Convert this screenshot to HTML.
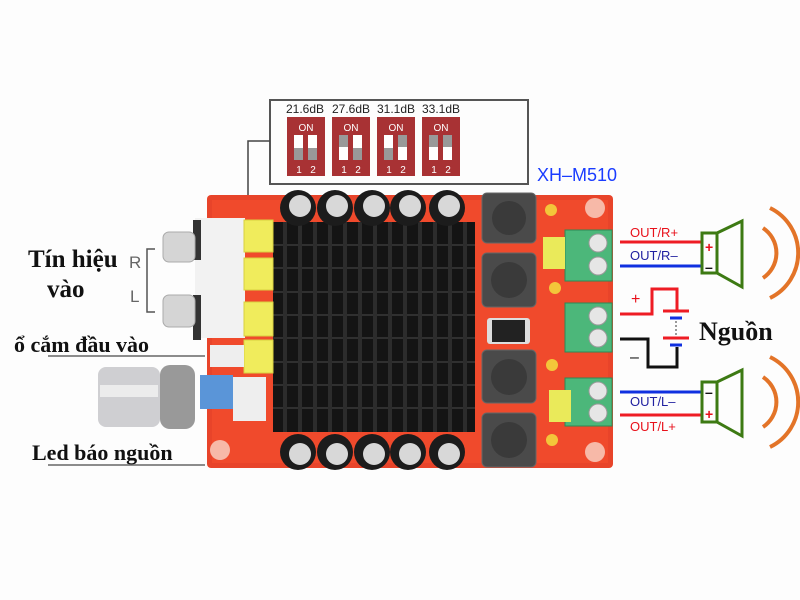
<!DOCTYPE html>
<html><head><meta charset="utf-8"><style>
html,body{margin:0;padding:0;background:#fff;width:800px;height:600px;overflow:hidden}
svg{display:block}
.s{font-family:"Liberation Serif",serif;font-weight:bold;fill:#111}
.a{font-family:"Liberation Sans",sans-serif}
</style></head><body>
<svg width="800" height="600" viewBox="0 0 800 600" xmlns="http://www.w3.org/2000/svg">
<rect width="800" height="600" fill="#fdfdfd"/>
<!-- DIP box -->
<rect x="270" y="100" width="258" height="84" fill="none" stroke="#555" stroke-width="2"/>
<polyline points="270,141 248,141 248,197" fill="none" stroke="#444" stroke-width="1.5"/>
<g class="a" font-size="12" fill="#222">
<text x="286" y="113">21.6dB</text><text x="332" y="113">27.6dB</text><text x="377" y="113">31.1dB</text><text x="422" y="113">33.1dB</text>
</g>
<g>
<rect x="287" y="117" width="38" height="59" fill="#a83234"/>
<rect x="332" y="117" width="38" height="59" fill="#a83234"/>
<rect x="377" y="117" width="38" height="59" fill="#a83234"/>
<rect x="422" y="117" width="38" height="59" fill="#a83234"/>
<g font-family="Liberation Sans" font-size="10" fill="#fff" text-anchor="middle">
<text x="306" y="131">ON</text><text x="351" y="131">ON</text><text x="396" y="131">ON</text><text x="441" y="131">ON</text>
<text x="299" y="173">1</text><text x="313" y="173">2</text><text x="344" y="173">1</text><text x="358" y="173">2</text>
<text x="389" y="173">1</text><text x="403" y="173">2</text><text x="434" y="173">1</text><text x="448" y="173">2</text>
</g>
<!-- switch slots -->
<g fill="#fff">
<rect x="294" y="135" width="9" height="25"/><rect x="308" y="135" width="9" height="25"/>
<rect x="339" y="135" width="9" height="25"/><rect x="353" y="135" width="9" height="25"/>
<rect x="384" y="135" width="9" height="25"/><rect x="398" y="135" width="9" height="25"/>
<rect x="429" y="135" width="9" height="25"/><rect x="443" y="135" width="9" height="25"/>
</g>
<g fill="#999">
<rect x="294" y="148" width="9" height="12"/><rect x="308" y="148" width="9" height="12"/>
<rect x="339" y="135" width="9" height="12"/><rect x="353" y="148" width="9" height="12"/>
<rect x="384" y="148" width="9" height="12"/><rect x="398" y="135" width="9" height="12"/>
<rect x="429" y="135" width="9" height="12"/><rect x="443" y="135" width="9" height="12"/>
</g>
</g>
<text x="537" y="181" class="a" font-size="18" fill="#1a3cff">XH–M510</text>

<!-- PCB -->
<rect x="207" y="195" width="406" height="273" rx="4" fill="#e8442a"/>
<rect x="212" y="200" width="396" height="263" fill="#f04a2c"/>
<!-- heatsink -->
<rect x="273" y="222" width="202" height="210" fill="#141414"/>
<g stroke="#3a3a3a" stroke-width="1.5">
<line x1="273" y1="245" x2="475" y2="245"/><line x1="273" y1="268" x2="475" y2="268"/>
<line x1="273" y1="292" x2="475" y2="292"/><line x1="273" y1="315" x2="475" y2="315"/>
<line x1="273" y1="338" x2="475" y2="338"/><line x1="273" y1="362" x2="475" y2="362"/>
<line x1="273" y1="385" x2="475" y2="385"/><line x1="273" y1="408" x2="475" y2="408"/>
</g>
<g stroke="#2c2c2c" stroke-width="4">
<line x1="285" y1="222" x2="285" y2="432"/><line x1="300" y1="222" x2="300" y2="432"/>
<line x1="315" y1="222" x2="315" y2="432"/><line x1="330" y1="222" x2="330" y2="432"/>
<line x1="345" y1="222" x2="345" y2="432"/><line x1="360" y1="222" x2="360" y2="432"/>
<line x1="375" y1="222" x2="375" y2="432"/><line x1="390" y1="222" x2="390" y2="432"/>
<line x1="405" y1="222" x2="405" y2="432"/><line x1="420" y1="222" x2="420" y2="432"/>
<line x1="435" y1="222" x2="435" y2="432"/><line x1="450" y1="222" x2="450" y2="432"/>
<line x1="465" y1="222" x2="465" y2="432"/>
</g>
<!-- caps -->
<g>
<g fill="#1c1c1c"><circle cx="298" cy="208" r="18"/><circle cx="335" cy="208" r="18"/><circle cx="372" cy="208" r="18"/><circle cx="408" cy="208" r="18"/><circle cx="447" cy="208" r="18"/>
<circle cx="298" cy="452" r="18"/><circle cx="335" cy="452" r="18"/><circle cx="372" cy="452" r="18"/><circle cx="408" cy="452" r="18"/><circle cx="447" cy="452" r="18"/></g>
<g fill="#d8d8d8"><circle cx="300" cy="206" r="11"/><circle cx="337" cy="206" r="11"/><circle cx="374" cy="206" r="11"/><circle cx="410" cy="206" r="11"/><circle cx="449" cy="206" r="11"/>
<circle cx="300" cy="454" r="11"/><circle cx="337" cy="454" r="11"/><circle cx="374" cy="454" r="11"/><circle cx="410" cy="454" r="11"/><circle cx="449" cy="454" r="11"/></g>
</g>
<!-- inductors -->
<g fill="#4a4a4a" stroke="#666">
<rect x="482" y="193" width="54" height="50" rx="5"/><rect x="482" y="253" width="54" height="54" rx="5"/>
<rect x="482" y="350" width="54" height="53" rx="5"/><rect x="482" y="413" width="54" height="54" rx="5"/>
</g>
<g fill="#3a3a3a"><circle cx="509" cy="218" r="17"/><circle cx="509" cy="280" r="18"/><circle cx="509" cy="377" r="18"/><circle cx="509" cy="440" r="18"/></g>
<rect x="487" y="318" width="43" height="26" rx="3" fill="#ddd"/><rect x="492" y="320" width="33" height="22" fill="#222"/>
<!-- green terminals -->
<g fill="#4cb77a" stroke="#2d8a55">
<rect x="565" y="230" width="47" height="51"/><rect x="565" y="303" width="47" height="49"/><rect x="565" y="378" width="47" height="48"/>
</g>
<g fill="#e6e6e6" stroke="#999"><circle cx="598" cy="243" r="9"/><circle cx="598" cy="266" r="9"/><circle cx="598" cy="316" r="9"/><circle cx="598" cy="338" r="9"/><circle cx="598" cy="391" r="9"/><circle cx="598" cy="413" r="9"/></g>
<g fill="#eaea5a"><rect x="543" y="237" width="22" height="32"/><rect x="549" y="390" width="22" height="32"/></g>
<g fill="#f3c63a"><circle cx="551" cy="210" r="6"/><circle cx="555" cy="288" r="6"/><circle cx="552" cy="365" r="6"/><circle cx="552" cy="440" r="6"/></g>
<circle cx="595" cy="208" r="10" fill="#f7b9a8"/><circle cx="595" cy="452" r="10" fill="#f7b9a8"/>
<!-- left components -->
<rect x="195" y="218" width="50" height="120" fill="#f2f2f2"/>
<rect x="193" y="220" width="8" height="40" fill="#333"/><rect x="193" y="295" width="8" height="45" fill="#333"/>
<rect x="163" y="232" width="32" height="30" rx="6" fill="#d5d5d5" stroke="#aaa"/>
<rect x="163" y="295" width="32" height="32" rx="6" fill="#d5d5d5" stroke="#aaa"/>
<g fill="#f0ec5c" stroke="#d8d040"><rect x="244" y="220" width="29" height="32"/><rect x="244" y="258" width="29" height="32"/><rect x="244" y="302" width="29" height="34"/><rect x="244" y="340" width="29" height="33"/></g>
<rect x="210" y="345" width="34" height="22" fill="#eee"/>
<rect x="98" y="367" width="62" height="60" rx="8" fill="#cfcfd2"/>
<rect x="100" y="385" width="58" height="12" fill="#ececec"/>
<rect x="160" y="365" width="35" height="64" rx="10" fill="#999"/>
<rect x="233" y="377" width="33" height="44" fill="#eee"/>
<rect x="200" y="375" width="33" height="34" fill="#5a95d8"/>
<circle cx="220" cy="450" r="10" fill="#f7b9a8"/>

<!-- left labels -->
<text x="28" y="267" class="s" font-size="25">Tín hiệu</text>
<text x="47" y="297" class="s" font-size="25">vào</text>
<text x="129" y="268" class="a" font-size="17" fill="#666">R</text>
<text x="130" y="302" class="a" font-size="17" fill="#666">L</text>
<polyline points="155,249 147,249 147,312 155,312" fill="none" stroke="#555" stroke-width="1.5"/>
<text x="14" y="352" class="s" font-size="22">ổ cắm đầu vào</text>
<line x1="48" y1="356" x2="205" y2="356" stroke="#666" stroke-width="1.5"/>
<text x="32" y="460" class="s" font-size="22">Led báo nguồn</text>
<line x1="48" y1="465" x2="205" y2="465" stroke="#666" stroke-width="1.5"/>

<!-- right: outputs -->
<g class="a" font-size="13">
<text x="630" y="237" fill="#e8101a">OUT/R+</text>
<text x="630" y="260" fill="#2020a0">OUT/R–</text>
<text x="630" y="406" fill="#2020a0">OUT/L–</text>
<text x="630" y="431" fill="#e8101a">OUT/L+</text>
</g>
<line x1="620" y1="242" x2="702" y2="242" stroke="#ee1c24" stroke-width="3"/>
<line x1="620" y1="266" x2="702" y2="266" stroke="#1030e0" stroke-width="3"/>
<line x1="620" y1="392" x2="702" y2="392" stroke="#1030e0" stroke-width="3"/>
<line x1="620" y1="415" x2="702" y2="415" stroke="#ee1c24" stroke-width="3"/>
<g fill="none" stroke="#3d7a13" stroke-width="3">
<rect x="702" y="233" width="15" height="40"/><polygon points="717,233 742,221 742,287 717,273"/>
<rect x="702" y="382" width="15" height="40"/><polygon points="717,382 742,370 742,436 717,422"/>
</g>
<g class="a" font-size="14" font-weight="bold">
<text x="705" y="252" fill="#e8101a">+</text><text x="705" y="272" fill="#111">–</text>
<text x="705" y="397" fill="#111">–</text><text x="705" y="419" fill="#e8101a">+</text>
</g>
<g fill="none" stroke="#e37428" stroke-width="4">
<path d="M763,228 A30,30 0 0 1 763,278"/>
<path d="M770,208 A50,50 0 0 1 770,298"/>
<path d="M763,377 A30,30 0 0 1 763,427"/>
<path d="M770,357 A50,50 0 0 1 770,447"/>
</g>
<!-- power -->
<polyline points="620,314 652,314 652,289 677,289 677,311" fill="none" stroke="#ee1c24" stroke-width="3"/>
<polyline points="620,339 648,339 648,367 677,367 677,347" fill="none" stroke="#111" stroke-width="3"/>
<line x1="663" y1="311" x2="689" y2="311" stroke="#ee1c24" stroke-width="3"/>
<line x1="670" y1="318" x2="682" y2="318" stroke="#1030e0" stroke-width="3"/>
<line x1="676" y1="321" x2="676" y2="335" stroke="#999" stroke-width="2" stroke-dasharray="2,2"/>
<line x1="663" y1="338" x2="689" y2="338" stroke="#ee1c24" stroke-width="3"/>
<line x1="670" y1="345" x2="682" y2="345" stroke="#1030e0" stroke-width="3"/>
<text x="631" y="304" class="a" font-size="16" fill="#e8101a">+</text>
<text x="630" y="362" class="a" font-size="16" fill="#111">–</text>
<text x="699" y="340" class="s" font-size="26">Nguồn</text>
</svg>
</body></html>
